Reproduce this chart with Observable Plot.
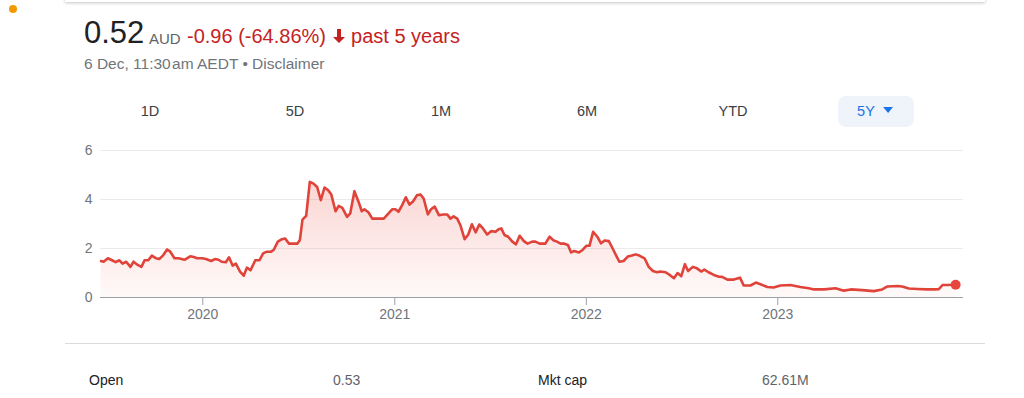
<!DOCTYPE html>
<html><head><meta charset="utf-8">
<script src="https://cdn.jsdelivr.net/npm/d3@7"></script>
<script src="https://cdn.jsdelivr.net/npm/@observablehq/plot@0.6"></script>
<style>
body{margin:0;width:1024px;height:398px;background:#fff;font-family:Arial,"Liberation Sans",sans-serif;position:relative;overflow:hidden}
.abs{position:absolute;white-space:nowrap}
#card{position:absolute;left:65px;top:-12px;width:920px;height:14px;background:#fff;box-shadow:0 1px 3px rgba(60,64,67,0.3)}
#dot{position:absolute;left:9px;top:5px;width:8px;height:8px;border-radius:50%;background:#f29900}
#price{left:84px;top:15px;font-size:31px;color:#202124}
#cur{left:149px;top:30px;font-size:15px;color:#5f6368}
#chg{left:187px;top:25px;font-size:20px;color:#c5221f}
#sub{left:84px;top:55px;font-size:15.5px;color:#70757a}
.tab{position:absolute;top:103px;font-size:14.5px;color:#3c4043;transform:translateX(-50%);font-weight:500}
#pill{position:absolute;left:838px;top:96px;width:76px;height:31px;border-radius:8px;background:#eff3fa}
#sep{position:absolute;left:65px;top:343px;width:920px;height:1px;background:#dadce0}
.row{position:absolute;top:372px;font-size:14px}
#chart{position:absolute;left:0;top:135px}
</style></head><body>
<div id="card"></div>
<div id="dot"></div>
<div class="abs" id="price">0.52</div>
<div class="abs" id="cur">AUD</div>
<div class="abs" id="chg">-0.96 (-64.86%) <svg width="14" height="16" viewBox="0 0 14 16" style="vertical-align:-1px"><path d="M7 15 L1 9 L5 9 L5 1 L9 1 L9 9 L13 9 Z" fill="#c5221f"/></svg> past 5 years</div>
<div class="abs" id="sub">6 Dec, 11:30&#8202;am AEDT • Disclaimer</div>
<div id="pill"></div>
<div id="tabs"></div>
<div id="chart"></div>
<div id="sep"></div>
<div id="stats"></div>
<script>
const dates = ["2019-06-21","2019-06-26","2019-07-04","2019-07-12","2019-07-19","2019-07-26","2019-08-01","2019-08-08","2019-08-16","2019-08-22","2019-08-30","2019-09-06","2019-09-12","2019-09-19","2019-09-26","2019-10-04","2019-10-10","2019-10-17","2019-10-25","2019-10-31","2019-11-08","2019-11-16","2019-11-27","2019-12-08","2019-12-15","2019-12-21","2019-12-31",
"2020-01-07","2020-01-17","2020-01-24","2020-01-31","2020-02-06","2020-02-14","2020-02-20","2020-02-27","2020-03-04","2020-03-12","2020-03-19","2020-03-25","2020-04-01","2020-04-10","2020-04-18","2020-04-25","2020-05-02","2020-05-10","2020-05-15","2020-05-23","2020-05-31","2020-06-06","2020-06-13","2020-06-22","2020-06-29","2020-07-04","2020-07-09","2020-07-16","2020-07-23","2020-07-30","2020-08-06","2020-08-13","2020-08-20","2020-08-27","2020-09-02","2020-09-10","2020-09-16","2020-09-23","2020-10-02","2020-10-08","2020-10-16","2020-10-24","2020-10-30","2020-11-04","2020-11-12","2020-11-19","2020-12-11","2020-12-17","2020-12-27",
"2021-01-02","2021-01-08","2021-01-15","2021-01-22","2021-01-29","2021-02-05","2021-02-12","2021-02-19","2021-02-25","2021-03-05","2021-03-11","2021-03-18","2021-03-26","2021-04-03","2021-04-11","2021-04-17","2021-04-23","2021-04-30","2021-05-06","2021-05-14","2021-05-21","2021-05-28","2021-06-04","2021-06-11","2021-06-18","2021-06-26","2021-07-04","2021-07-12","2021-07-18","2021-07-23","2021-07-29","2021-08-05","2021-08-13","2021-08-20","2021-08-27","2021-09-04","2021-09-11","2021-09-20","2021-09-26","2021-10-04","2021-10-15","2021-10-23","2021-10-30","2021-11-06","2021-11-13","2021-11-19","2021-11-27","2021-12-03","2021-12-09","2021-12-18","2021-12-25",
"2022-01-01","2022-01-07","2022-01-14","2022-01-22","2022-01-29","2022-02-05","2022-02-13","2022-02-20","2022-02-27","2022-03-05","2022-03-13","2022-03-21","2022-03-29","2022-04-05","2022-04-12","2022-04-22","2022-04-30","2022-05-08","2022-05-16","2022-05-22","2022-06-01","2022-06-09","2022-06-17","2022-06-24","2022-07-01","2022-07-08","2022-07-14","2022-07-23","2022-07-31","2022-08-08","2022-08-14","2022-08-22","2022-09-01","2022-09-11","2022-09-17","2022-09-27","2022-10-09","2022-10-21","2022-10-28","2022-11-10","2022-11-20","2022-11-29","2022-12-12","2022-12-24",
"2023-01-06","2023-01-25","2023-02-13","2023-03-01","2023-03-11","2023-03-30","2023-04-21","2023-05-07","2023-05-20","2023-06-11","2023-07-03","2023-07-19","2023-07-29","2023-08-17","2023-08-26","2023-09-08","2023-09-24","2023-10-13","2023-10-26","2023-11-04","2023-11-11","2023-11-20","2023-12-06"];
const prices = [1.49,1.46,1.60,1.52,1.44,1.52,1.38,1.46,1.25,1.46,1.33,1.25,1.52,1.52,1.71,1.60,1.57,1.71,1.96,1.87,1.60,1.60,1.54,1.68,1.65,1.60,1.60,
1.57,1.49,1.57,1.54,1.46,1.44,1.64,1.30,1.38,1.06,0.89,1.22,1.11,1.52,1.52,1.80,1.87,1.87,1.94,2.28,2.38,2.41,2.20,2.20,2.20,2.34,3.18,3.33,4.72,4.65,4.51,3.97,4.49,4.38,4.20,3.52,3.74,3.66,3.29,3.43,4.34,3.90,3.52,3.60,3.47,3.22,3.22,3.36,3.60,
3.60,3.50,3.77,4.09,3.79,3.93,4.17,4.20,4.04,3.39,3.60,3.71,3.36,3.39,3.39,3.22,3.31,3.22,2.95,2.38,2.57,2.99,2.66,2.98,2.82,2.57,2.71,2.68,2.79,2.82,2.55,2.48,2.28,2.17,2.52,2.30,2.20,2.28,2.28,2.20,2.20,2.48,2.34,2.28,2.20,2.20,2.14,1.84,1.90,1.84,1.94,
2.11,2.11,2.68,2.48,2.21,2.33,2.30,2.01,1.71,1.46,1.49,1.67,1.71,1.76,1.71,1.60,1.25,1.08,1.03,1.06,1.03,0.92,0.79,1.00,0.87,1.36,1.08,1.25,1.19,1.06,1.14,1.03,0.92,0.85,0.84,0.73,0.73,0.81,0.49,0.49,0.61,0.54,0.43,0.41,
0.49,0.51,0.43,0.38,0.33,0.33,0.38,0.28,0.33,0.30,0.26,0.33,0.45,0.47,0.45,0.37,0.35,0.33,0.33,0.34,0.51,0.51,0.52];
const yTicks = [0, 2, 4, 6];
const xTickYears = ["2020", "2021", "2022", "2023"];
const xDomain = ["2019-06-20", "2023-12-21"];
const tabs = ["1D", "5D", "1M", "6M", "YTD"];
const tabX = [150, 295, 441, 587, 733];
const statLabels = ["Open", "Mkt cap"];
const statValues = ["0.53", "62.61M"];

const data = dates.map((d, i) => ({date: new Date(d), price: prices[i]}));
const last = data[data.length - 1];

const tabsEl = document.getElementById("tabs");
tabs.forEach((t, i) => {
  const el = document.createElement("div");
  el.className = "tab"; el.style.left = tabX[i] + "px"; el.textContent = t;
  tabsEl.appendChild(el);
});
const sel = document.createElement("div");
sel.className = "tab"; sel.style.left = "875px"; sel.style.color = "#1a73e8";
sel.innerHTML = '5Y&nbsp;&nbsp;<svg width="10" height="7" viewBox="0 0 10 7" style="vertical-align:2px"><path d="M0 0 L10 0 L5 6 Z" fill="#1a73e8"/></svg>';
tabsEl.appendChild(sel);

const statsEl = document.getElementById("stats");
[[89, statLabels[0], "#202124"], [333, statValues[0], "#5f6368"], [538, statLabels[1], "#202124"], [762, statValues[1], "#5f6368"]].forEach(([x, t, c]) => {
  const el = document.createElement("div");
  el.className = "row"; el.style.left = x + "px"; el.style.color = c; el.textContent = t;
  statsEl.appendChild(el);
});

const chart = Plot.plot({
  width: 1024, height: 190,
  marginLeft: 100, marginRight: 61, marginTop: 15, marginBottom: 28,
  style: {fontFamily: "Arial, 'Liberation Sans', sans-serif", fontSize: "14px", color: "#70757a", background: "transparent"},
  x: {type: "utc", domain: xDomain.map(d => new Date(d))},
  y: {domain: [0, 6]},
  marks: [
    Plot.ruleY(yTicks.filter(d => d > 0), {stroke: "#ebebeb", strokeWidth: 1}),
    Plot.areaY(data, {x: "date", y: "price", fill: "url(#redgrad)"}),
    Plot.ruleY([0], {stroke: "#9aa0a6", strokeWidth: 1.2}),
    Plot.lineY(data, {x: "date", y: "price", stroke: "#e0433a", strokeWidth: 2.6, strokeLinejoin: "round"}),
    Plot.dot([last], {x: "date", y: "price", r: 5, fill: "#e8453c"}),
    Plot.axisX({ticks: xTickYears.map(y => new Date(y + "-01-01")), tickFormat: d3.utcFormat("%Y"), tickSize: 8, tickPadding: 4, stroke: "#9aa0a6", fill: "#70757a", fontSize: 14, label: null}),
    Plot.axisY({ticks: yTicks, tickFormat: d => String(d), tickSize: 0, tickPadding: 8, fill: "#70757a", fontSize: 14, label: null})
  ]
});
const svg = d3.select(chart);
const defs = svg.insert("defs", ":first-child");
const g = defs.append("linearGradient").attr("id", "redgrad").attr("x1", 0).attr("y1", 0).attr("x2", 0).attr("y2", 1);
g.append("stop").attr("offset", "0%").attr("stop-color", "#ea4335").attr("stop-opacity", 0.22);
g.append("stop").attr("offset", "100%").attr("stop-color", "#ea4335").attr("stop-opacity", 0.03);
document.getElementById("chart").appendChild(chart);
</script>
</body></html>
